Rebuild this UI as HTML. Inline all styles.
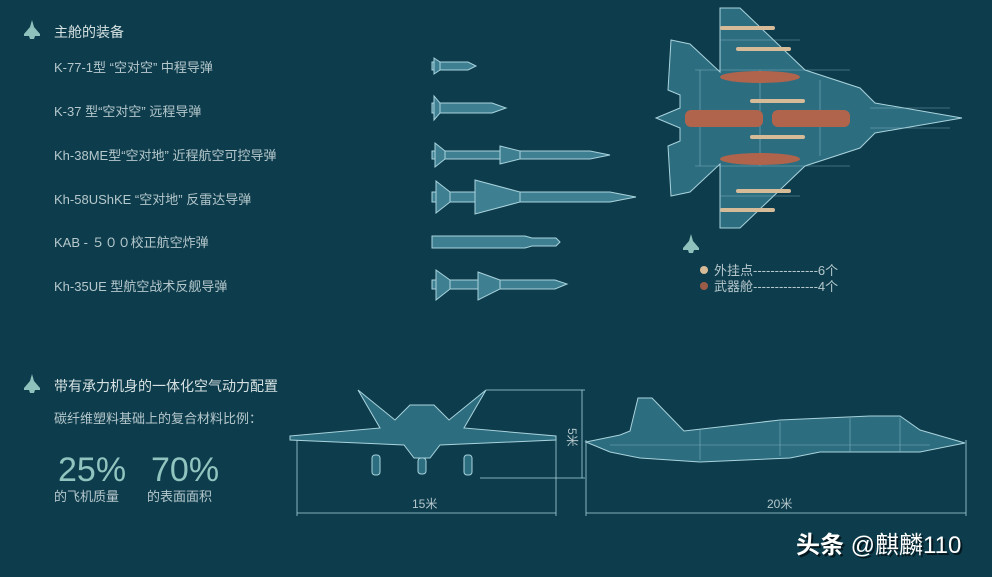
<!DOCTYPE html>
<html><head><meta charset="utf-8"><style>
body{margin:0;background:#0d3c4c;}
svg{display:block}
text{font-family:"Liberation Sans","Noto Sans CJK SC",sans-serif;}
</style></head><body>
<svg width="992" height="577" viewBox="0 0 992 577" xmlns="http://www.w3.org/2000/svg">
<rect width="992" height="577" fill="#0d3c4c"/>
<defs>
<g id="jet"><path d="M0,-10 L2,-3 L8,4 L8,6 L3,6 L2,9 L-2,9 L-3,6 L-8,6 L-8,4 L-2,-3Z" fill="#8fc2bc"/></g>
</defs>
<use href="#jet" x="32" y="30"/>
<use href="#jet" x="32" y="384"/>
<use href="#jet" x="691" y="244"/>
<g font-size="13" fill="#b5c8cc">
<text x="54" y="37" fill="#d6e2e2" font-size="14">主舱的装备</text>
<text x="54" y="72">K-77-1型 “空对空” 中程导弹</text>
<text x="54" y="116">K-37 型“空对空” 远程导弹</text>
<text x="54" y="160">Kh-38ME型“空对地” 近程航空可控导弹</text>
<text x="54" y="204">Kh-58UShKE “空对地” 反雷达导弹</text>
<text x="54" y="247">KAB - ５００校正航空炸弹</text>
<text x="54" y="291">Kh-35UE 型航空战术反舰导弹</text>
<text x="54" y="391" fill="#d6e2e2" font-size="14">带有承力机身的一体化空气动力配置</text>
<text x="54" y="423">碳纤维塑料基础上的复合材料比例：</text>
<text x="54" y="501">的飞机质量</text>
<text x="147" y="501">的表面面积</text>
</g>
<text x="58" y="481" font-size="34" fill="#8fc4bf">25%</text>
<text x="151" y="481" font-size="34" fill="#8fc4bf">70%</text>
<!-- missiles -->
<g fill="#3e7f92" stroke="#a9d3dc" stroke-width="1">
<path d="M432,62 L468,62 L476,66 L468,70 L432,70Z"/><path d="M434,58 L440,62 L440,70 L434,74Z"/>
<path d="M432,103 L492,103 L506,108 L492,113 L432,113Z"/><path d="M434,96 L440,103 L440,113 L434,120Z"/>
<path d="M432,151 L590,151 L610,155 L590,159 L432,159Z"/><path d="M435,143 L445,151 L445,159 L435,167Z"/><path d="M500,146 L520,151 L520,159 L500,164Z"/>
<path d="M432,192 L610,192 L636,197 L610,202 L432,202Z"/><path d="M436,181 L450,192 L450,202 L436,213Z"/><path d="M475,180 L520,192 L520,202 L475,214Z"/>
<path d="M432,236 L525,236 L532,238 L556,238 L560,242 L556,246 L532,246 L525,248 L432,248Z"/>
<path d="M432,280 L555,280 L567,284 L555,289 L432,289Z"/><path d="M436,270 L450,280 L450,289 L436,300Z"/><path d="M478,272 L500,280 L500,289 L478,300Z"/>
</g>
<!-- top view plane -->
<g stroke="#a9d3dc" stroke-width="1" fill="#2d6d80">
<path d="M656,118 L680,108 L680,95 L668,90 L671,40 L690,44 L720,72 L720,8 L740,8 L805,70 L860,88 L875,103 L962,118 L875,133 L860,148 L805,166 L740,228 L720,228 L720,164 L690,192 L671,196 L668,146 L680,141 L680,128Z"/>
</g>
<g stroke="#8ec0cb" stroke-width="0.6" fill="none" opacity="0.8">
<path d="M695,70 H850 M695,166 H850 M700,70 V166 M760,70 V166 M820,80 V156 M870,108 H950 M870,128 H950 M720,40 L800,40 M720,196 L800,196"/>
</g>
<g fill="#b0644c">
<ellipse cx="760" cy="77" rx="40" ry="6"/><ellipse cx="760" cy="159" rx="40" ry="6"/>
<rect x="685" y="110" width="78" height="17" rx="6"/><rect x="772" y="110" width="78" height="17" rx="6"/>
</g>
<g fill="#d6bb98">
<rect x="720" y="26" width="55" height="4" rx="2"/><rect x="736" y="47" width="55" height="4" rx="2"/>
<rect x="750" y="99" width="55" height="4" rx="2"/><rect x="750" y="135" width="55" height="4" rx="2"/>
<rect x="736" y="189" width="55" height="4" rx="2"/><rect x="720" y="208" width="55" height="4" rx="2"/>
</g>
<circle cx="704" cy="270" r="4" fill="#d6bb98"/><circle cx="704" cy="286" r="4" fill="#9a5c46"/>
<g font-size="13" fill="#b5c8cc"><text x="714" y="275">外挂点---------------6个</text><text x="714" y="291">武器舱---------------4个</text></g>
<!-- front view -->
<g stroke="#a9d3dc" stroke-width="1" fill="#2d6d80">
<path d="M290,436 L380,428 L358,390 L395,420 L410,405 L434,405 L449,420 L486,390 L464,428 L556,436 L556,440 L440,445 L430,458 L414,458 L404,445 L290,440Z"/>
<rect x="372" y="455" width="8" height="20" rx="3"/><rect x="464" y="455" width="8" height="20" rx="3"/><rect x="418" y="458" width="8" height="16" rx="3"/>
</g>
<g stroke="#a9d3dc" stroke-width="0.8" fill="none">
<path d="M297,440 V516 M556,440 V516 M297,513 H556"/>
<path d="M486,390 H585 M480,478 H585 M582,390 V478"/>
<path d="M586,440 V516 M966,440 V516 M586,513 H966"/>
</g>
<text x="412" y="508" font-size="12" fill="#b5c8cc">15米</text>
<text x="568" y="440" font-size="12" fill="#b5c8cc" transform="rotate(90 574 434)">5米</text>
<text x="767" y="508" font-size="12" fill="#b5c8cc">20米</text>
<!-- side view -->
<g stroke="#a9d3dc" stroke-width="1" fill="#2d6d80">
<path d="M586,442 L620,435 L630,431 L638,398 L652,398 L684,431 L780,420 L870,416 L900,416 L920,430 L965,443 L920,452 L820,452 L790,458 L700,462 L640,458 L610,452Z"/>
</g>
<g stroke="#8ec0cb" stroke-width="0.6" fill="none" opacity="0.8">
<path d="M610,445 H930 M700,430 V460 M780,422 V456 M850,418 V452 M900,418 V452"/>
</g>
<text x="798" y="555" font-size="24" font-weight="bold" fill="#000" opacity="0.6">头条 <tspan font-weight="normal">@麒麟110</tspan></text>
<text x="796" y="553" font-size="24" font-weight="bold" fill="#ffffff">头条 <tspan font-weight="normal">@麒麟110</tspan></text>
</svg>
</body></html>
